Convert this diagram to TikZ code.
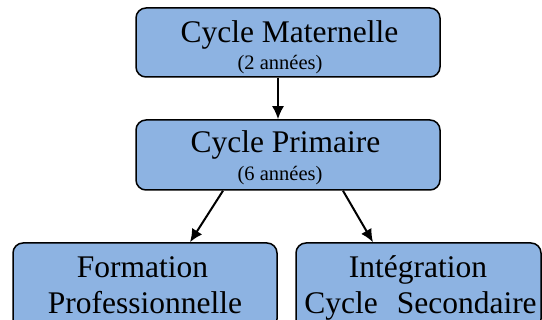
\documentclass[tikz,border=0pt]{standalone}
\usepackage{fontspec}
\setmainfont{Liberation Serif}
\usepackage{xcolor}
\usepackage{tikz}
\usetikzlibrary{arrows.meta,positioning}
\definecolor{cycleblue}{HTML}{8DB3E2}

\begin{document}
\begin{tikzpicture}[x=1pt,y=-1pt,
box/.style={draw,line width=1.5pt,rounded corners=10pt,fill=cycleblue,minimum height=69pt,inner sep=0pt},
big/.style={anchor=base,inner sep=0pt,font=\fontsize{31.5}{34}\selectfont},
small/.style={anchor=base,inner sep=0pt,font=\fontsize{20.5}{22}\selectfont},
arr/.style={line width=2pt,-{Latex[length=13pt,width=12pt]}}
]
\useasboundingbox (0,0) rectangle (542,320);
\node[box,minimum width=304pt] (mat) at (288,42.5) {};
\node[box,minimum width=304pt,minimum height=70pt] (prim) at (288,155) {};
\node[box,minimum width=264pt,minimum height=86pt] (form) at (145,286) {};
\node[box,minimum width=245pt,minimum height=86pt] (integ) at (418.5,286) {};
\node[big] (matT) at ([xshift=1.5pt,yshift=-35pt]mat.north) {Cycle Maternelle};
\node[small] (matS) at ([xshift=-8pt,yshift=-62pt]mat.north) {(2 années)};
\node[big] (primT) at ([xshift=-2.5pt,yshift=-33pt]prim.north) {Cycle Primaire};
\node[small] (primS) at ([xshift=-8pt,yshift=-61pt]prim.north) {(6 années)};
\node[big] (formA) at ([xshift=-2.5pt,yshift=-35pt]form.north) {Formation};
\node[big] (formB) at ([yshift=-71pt]form.north) {Professionnelle};
\node[big] (integA) at ([xshift=-0.5pt,yshift=-35pt]integ.north) {Intégration};
\node[big] (integB) at ([xshift=2pt,yshift=-71pt]integ.north) {Cycle\hspace{19pt}Secondaire};
\draw[arr] ([xshift=-10pt]mat.south) -- ([xshift=-10pt]prim.north);
\draw[arr] ([xshift=-65pt]prim.south) -- ([xshift=45pt]form.north);
\draw[arr] ([xshift=55pt]prim.south) -- ([xshift=-45.5pt]integ.north);
\end{tikzpicture}
\end{document}
